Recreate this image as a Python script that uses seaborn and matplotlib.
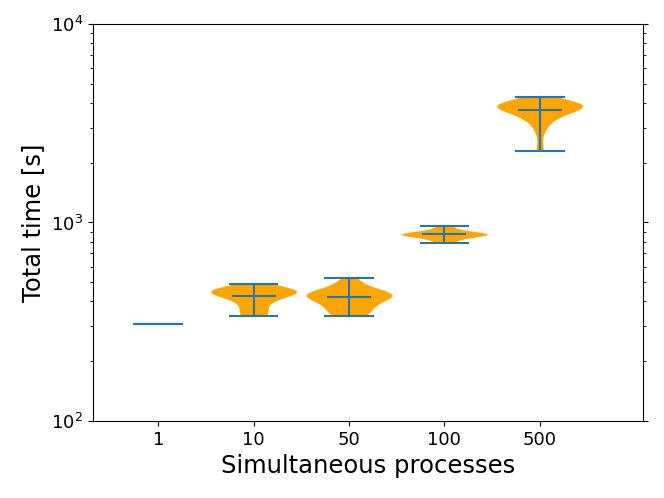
import numpy as np
import pandas as pd
import matplotlib
matplotlib.use("Agg")
import matplotlib.pyplot as plt
import seaborn as sns

categories = ["1", "10", "50", "100", "500"]
t_1 = [308, 308, 308, 308, 308]
t_10 = [338, 342, 350, 375, 395, 405, 425, 430, 435, 440, 442, 445, 448, 452, 455, 460, 465, 472, 482, 492]
t_50 = [338, 345, 355, 365, 380, 395, 405, 415, 420, 425, 428, 432, 436, 440, 445, 452, 462, 478, 500, 524]
t_100 = [791, 820, 845, 858, 865, 870, 873, 876, 880, 886, 900, 925, 957]
t_500 = [2291, 2950, 3250, 3400, 3500, 3580, 3650, 3720, 3780, 3820, 3850, 3870, 3890, 3910, 3935, 3960, 4000, 4080, 4180, 4276]

series = [t_1, t_10, t_50, t_100, t_500]
df = pd.DataFrame({
    "proc": np.concatenate([[c] * len(s) for c, s in zip(categories, series)]),
    "time": np.concatenate(series).astype(float),
})

fig = plt.figure(figsize=(6.64, 4.98), dpi=100)
ax = fig.add_axes([93 / 664, 1 - 421 / 498, (643 - 93) / 664, (421 - 24) / 498])

sns.violinplot(data=df, x="proc", y="time", order=categories, color="orange",
               saturation=1, inner=None, cut=0, density_norm="width", width=0.9,
               linewidth=0, ax=ax)
sns.pointplot(data=df, x="proc", y="time", order=categories, estimator="mean",
              errorbar=("pi", 100), capsize=0.5, color="#1f77b4", linestyle="none",
              marker="_", markersize=31, markeredgewidth=1.5,
              err_kws={"linewidth": 1.5}, ax=ax)

ax.set_yscale("log")
ax.set_ylim(100, 10000)
ax.set_xlim(-0.684, 5.083)
ax.tick_params(axis="y", which="both", right=True)
ax.tick_params(labelsize=13)
ax.set_xlabel("Simultaneous processes", fontsize=17.5)
ax.set_ylabel("Total time [s]", fontsize=17.5)

fig.savefig("out.png", dpi=100)
